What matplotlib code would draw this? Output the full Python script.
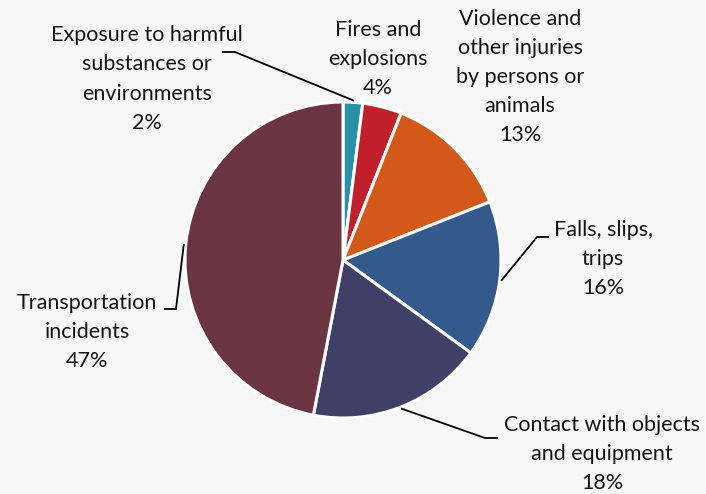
import matplotlib.pyplot as plt
import numpy as np

categories = [
    "Exposure to harmful\nsubstances or\nenvironments",
    "Fires and\nexplosions",
    "Violence and\nother injuries\nby persons or\nanimals",
    "Falls, slips,\ntrips",
    "Contact with objects\nand equipment",
    "Transportation\nincidents",
]
shares = [2, 4, 13, 16, 18, 47]
colors = ["#2A8FA8", "#C0202B", "#D2591A", "#335A8A", "#3E4068", "#6B3441"]

W, H = 706, 494
BG = "#F7F7F7"

# pie geometry in pixel units (y measured from the bottom)
cx, cy, radius = 343, H - 260, 158

# label centre (x, y from top) and leader elbow point for each slice; None = no leader
label_pos = [(147, 79), (378, 59), (520, 77), (603, 259), (602, 454), (87, 332)]
elbows = [((235, 52), (223, 52)), None, None, ((537, 237), (548, 237)),
          ((485, 438), (497, 438)), ((176, 309), (165, 309))]

fig = plt.figure(figsize=(W / 100, H / 100), dpi=100)
fig.patch.set_facecolor(BG)
ax = fig.add_axes([0, 0, 1, 1])
ax.set_facecolor(BG)

ax.pie(
    shares,
    colors=colors,
    startangle=90,
    counterclock=False,
    center=(cx, cy),
    radius=radius,
    wedgeprops={"edgecolor": "white", "linewidth": 2.2},
)
ax.set_xlim(0, W)
ax.set_ylim(0, H)
ax.set_aspect("equal")
ax.axis("off")

cum = np.cumsum([0] + shares[:-1])
for label, share, start, (lx, ly), elbow in zip(categories, shares, cum, label_pos, elbows):
    ax.text(
        lx, H - ly, f"{label}\n{share}%",
        ha="center", va="center", fontsize=15.5, family="Lato",
        color="#151515", linespacing=1.57,
    )
    if elbow is None:
        continue
    # leader starts at the outer edge of the slice, at its mid angle
    mid = np.deg2rad(90 - (start + share / 2) * 3.6)
    sx = cx + (radius + 2) * np.cos(mid)
    sy = cy + (radius + 2) * np.sin(mid)
    (ex, ey), (tx, ty) = elbow
    ax.plot([sx, ex, tx], [sy, H - ey, H - ty], color="black", linewidth=1.3,
            solid_joinstyle="miter")

fig.savefig("out.png", dpi=100, facecolor=BG)
